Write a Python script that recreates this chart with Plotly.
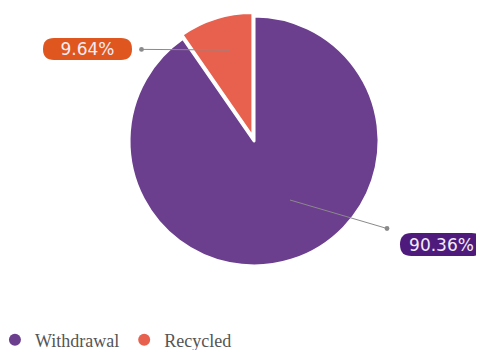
import plotly.graph_objects as go

labels = ["Withdrawal", "Recycled"]
values = [90.36, 9.64]
colors = ["#6B3E8E", "#E8604E"]
label_colors = ["#4E1B7C", "#E0561F"]
pct_text = ["90.36%", "9.64%"]

W, H = 484, 350

fig = go.Figure()
fig.add_trace(go.Pie(
    labels=labels, values=values, sort=False, direction="clockwise", rotation=0,
    marker=dict(colors=colors, line=dict(color="white", width=3)),
    pull=[0, 0.03], textinfo="none", hoverinfo="label+percent",
    showlegend=False,
    domain=dict(x=[0.2423, 0.7743], y=[0.2521, 0.9879]),
))
for lab, col in zip(labels, colors):
    fig.add_trace(go.Scatter(x=[None], y=[None], mode="markers", name=lab,
                             marker=dict(color=col, size=12, symbol="circle")))

def rounded(x0, y0, x1, y1, fill):
    r = (y1 - y0) / 2
    def px(x): return x / W
    def py(y): return 1 - y / H
    path = (f"M {px(x0 + r)},{py(y0)} L {px(x1 - r)},{py(y0)} "
            f"Q {px(x1)},{py(y0)} {px(x1)},{py(y0 + r)} "
            f"Q {px(x1)},{py(y1)} {px(x1 - r)},{py(y1)} "
            f"L {px(x0 + r)},{py(y1)} "
            f"Q {px(x0)},{py(y1)} {px(x0)},{py(y0 + r)} "
            f"Q {px(x0)},{py(y0)} {px(x0 + r)},{py(y0)} Z")
    return dict(type="path", xref="paper", yref="paper", path=path,
                fillcolor=fill, line=dict(width=0), layer="above")

fig.add_shape(rounded(35, 30, 124, 52, label_colors[1]))
fig.add_shape(rounded(392, 225, 475, 248, label_colors[0]))

fnt = dict(color="#f3ecf7", size=17, family="DejaVu Sans")
fig.add_annotation(xref="paper", yref="paper", x=222 / W, y=1 - 42 / H,
                   ax=79.5 - 222, ay=41 - 42, text=pct_text[1], font=fnt,
                   showarrow=True, arrowside="start", startarrowhead=6,
                   startarrowsize=1.2, arrowwidth=1, arrowcolor="#8a8a8a",
                   startstandoff=8, width=89, height=22)
fig.add_annotation(xref="paper", yref="paper", x=282 / W, y=1 - 192 / H,
                   ax=433.5 - 282, ay=236.5 - 192, text=pct_text[0], font=fnt,
                   showarrow=True, arrowside="start", startarrowhead=6,
                   startarrowsize=1.2, arrowwidth=1, arrowcolor="#8a8a8a",
                   startstandoff=12, width=83, height=23)

fig.update_layout(
    width=W, height=H, margin=dict(l=0, r=0, t=0, b=0, autoexpand=False),
    paper_bgcolor="white", plot_bgcolor="white",
    xaxis=dict(visible=False), yaxis=dict(visible=False),
    legend=dict(orientation="h", x=-0.027, y=1 - 332 / H, xanchor="left", yanchor="middle",
                font=dict(family="Liberation Serif", size=18, color="#555555"),
                itemsizing="constant", itemwidth=30, tracegroupgap=0),
)
fig.write_html("out.html")
